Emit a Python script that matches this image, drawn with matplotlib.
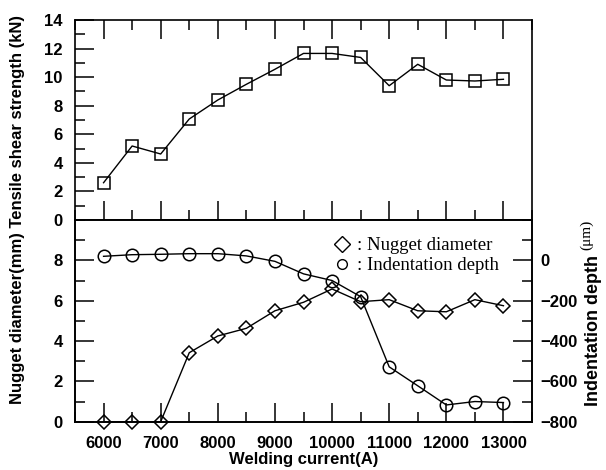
import matplotlib
matplotlib.use('Agg')
import matplotlib.pyplot as plt
from matplotlib.ticker import MultipleLocator, FixedLocator
from matplotlib.lines import Line2D

current = [6000, 6500, 7000, 7500, 8000, 8500, 9000, 9500,
           10000, 10500, 11000, 11500, 12000, 12500, 13000]
tensile = [2.61, 5.18, 4.62, 7.07, 8.4, 9.5, 10.55, 11.66,
           11.66, 11.38, 9.4, 10.9, 9.8, 9.73, 9.85]
nugget = [0.0, 0.0, 0.0, 3.42, 4.25, 4.63, 5.5, 5.92,
          6.58, 5.95, 6.05, 5.5, 5.45, 6.05, 5.75]
indent = [20, 28, 30, 33, 33, 22, -5, -67,
          -100, -180, -528, -622, -717, -700, -705]

xticks = [6000, 7000, 8000, 9000, 10000, 11000, 12000, 13000]
top_yticks = [0, 2, 4, 6, 8, 10, 12, 14]
left_yticks = [0, 2, 4, 6, 8]
right_yticks = [-800, -600, -400, -200, 0]

W, H = 606, 470
plt.rcParams['font.family'] = ['Liberation Sans', 'DejaVu Sans']
plt.rcParams['font.weight'] = 'bold'
fs = 12
serif = ['Liberation Serif', 'DejaVu Serif']

fig = plt.figure(figsize=(W / 100, H / 100), dpi=100)
ax1 = fig.add_axes([75 / W, 1 - 220 / H, 457 / W, 200 / H])
ax2 = fig.add_axes([75 / W, 1 - 421.7 / H, 457 / W, 201.7 / H])
ax3 = ax2.twinx()

for a in (ax1, ax2, ax3):
    for s in a.spines.values():
        s.set_linewidth(1.2)

MAJ, MIN = 14, 7
# top panel
ax1.plot(current, tensile, color='k', lw=1, marker='s', ms=9, mfc='none', mec='k',
         mew=1.1, clip_on=False)
ax1.set_xlim(5500, 13500)
ax1.set_ylim(0, 14)
ax1.xaxis.set_major_locator(FixedLocator(xticks))
ax1.xaxis.set_minor_locator(MultipleLocator(500))
ax1.yaxis.set_major_locator(FixedLocator(top_yticks))
ax1.yaxis.set_minor_locator(MultipleLocator(1))
ax1.tick_params(axis='x', which='both', direction='in', top=True, bottom=True,
                labelbottom=False, width=1.1)
ax1.tick_params(axis='x', which='major', length=MAJ)
ax1.tick_params(axis='x', which='minor', length=MIN)
ax1.tick_params(axis='y', which='both', direction='in', left=True, right=False,
                labelsize=fs, pad=9, width=1.1)
ax1.tick_params(axis='y', which='major', length=MAJ)
ax1.tick_params(axis='y', which='minor', length=MIN)

# bottom panel
ax2.plot(current, nugget, color='k', lw=1, marker='D', ms=7.5, mfc='none', mec='k',
         mew=1.1, clip_on=False)
ax3.plot(current, indent, color='k', lw=1, marker='o', ms=9, mfc='none', mec='k',
         mew=1.1, clip_on=False)
ax2.set_xlim(5500, 13500)
ax2.set_ylim(0, 10)
ax3.set_ylim(-800, 200)
ax2.xaxis.set_major_locator(FixedLocator(xticks))
ax2.xaxis.set_minor_locator(MultipleLocator(500))
ax2.yaxis.set_major_locator(FixedLocator(left_yticks))
ax2.yaxis.set_minor_locator(MultipleLocator(1))
ax3.yaxis.set_major_locator(FixedLocator(right_yticks))
ax3.yaxis.set_minor_locator(MultipleLocator(100))
ax2.tick_params(axis='x', which='both', direction='in', top=False, bottom=True,
                labelsize=fs, pad=10, width=1.1)
ax2.tick_params(axis='x', which='major', length=MAJ)
ax2.tick_params(axis='x', which='minor', length=MIN)
ax2.tick_params(axis='y', which='both', direction='in', left=True, right=False,
                labelsize=fs, pad=9, width=1.1)
ax2.tick_params(axis='y', which='major', length=MAJ)
ax2.tick_params(axis='y', which='minor', length=MIN)
ax3.tick_params(axis='y', which='both', direction='in', right=True, left=False,
                labelsize=fs, pad=6, width=1.1)
ax3.tick_params(axis='y', which='major', length=MAJ)
ax3.tick_params(axis='y', which='minor', length=MIN)

ax2.set_xlabel('Welding current(A)', fontsize=fs, fontweight='bold', labelpad=1)

handles = [Line2D([], [], ls='none', marker='D', ms=8, mfc='none', mec='k', mew=1.0),
           Line2D([], [], ls='none', marker='o', ms=7, mfc='none', mec='k', mew=1.0)]
ax2.legend(handles, [': Nugget diameter', ': Indentation depth'],
           loc='upper left', bbox_to_anchor=(333 / W, 1 - 237 / H),
           bbox_transform=fig.transFigure, frameon=False, handlelength=1.0,
           handletextpad=0.3, borderpad=0, borderaxespad=0, labelspacing=0.15,
           prop={'family': serif, 'size': 13.5, 'weight': 'normal'})

fig.text(18 / W, 1 - 210 / H, 'Nugget diameter(mm) Tensile shear strength (kN)',
         rotation=90, ha='center', va='center', fontsize=fs)
fig.text(594 / W, 1 - 330 / H, 'Indentation depth', rotation=90,
         ha='center', va='center', fontsize=13)
fig.text(587 / W, 1 - 235 / H, '(μm)', rotation=90, ha='center', va='center',
         fontsize=11, family=serif, weight='normal')

fig.savefig('out.png', dpi=100)
